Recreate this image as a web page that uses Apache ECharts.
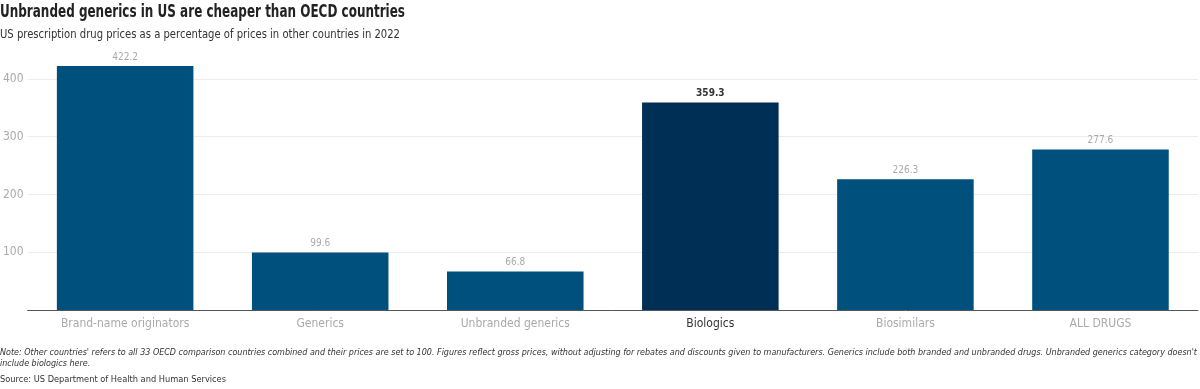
<!DOCTYPE html>
<html><head><meta charset="utf-8">
<script src="https://cdn.jsdelivr.net/npm/echarts@6/dist/echarts.min.js"></script>
<style>html,body{margin:0;padding:0;background:#fff}#c{width:1200px;height:389px}</style>
</head><body><div id="c"></div>
<script>
const categories = ["Brand-name originators", "Generics", "Unbranded generics", "Biologics", "Biosimilars", "ALL DRUGS"];
const values = [422.2, 99.6, 66.8, 359.3, 226.3, 277.6];
const highlight = "Biologics";
const titleText = "Unbranded generics in US are cheaper than OECD countries";
const subtitleText = "US prescription drug prices as a percentage of prices in other countries in 2022";
const noteLine1 = "Note: Other countries' refers to all 33 OECD comparison countries combined and their prices are set to 100. Figures reflect gross prices, without adjusting for rebates and discounts given to manufacturers. Generics include both branded and unbranded drugs. Unbranded generics category doesn't";
const noteLine2 = "include biologics here.";
const sourceText = "Source: US Department of Health and Human Services";

const FONT = "'Liberation Sans Narrow', 'DejaVu Sans Condensed', 'Noto Sans', sans-serif";
const mctx = document.createElement('canvas').getContext('2d');
function fit(text, font, target) {
  mctx.font = font;
  const w = mctx.measureText(text).width;
  return w > 0 ? target / w : 1;
}
function txt(text, font, x, y, fill, targetW) {
  const f = font + " " + FONT;
  return {
    type: 'text', x: x, y: y, scaleX: targetW ? fit(text, f, targetW) : 1,
    style: { text: text, font: f, fill: fill, verticalAlign: 'top' }
  };
}
const noteFont = "italic 9.5px";
const noteScale = fit(noteLine1, noteFont + " " + FONT, 1197);

const chart = echarts.init(document.getElementById('c'));
chart.setOption({
  animation: false,
  textStyle: { fontFamily: FONT },
  graphic: [
    txt(titleText, "bold 18px", 0, 3, '#222', 405),
    txt(subtitleText, "12px", 0, 29, '#333', 400),
    Object.assign(txt(noteLine1, noteFont, 0, 348, '#333'), { scaleX: noteScale }),
    Object.assign(txt(noteLine2, noteFont, 0, 359, '#333'), { scaleX: noteScale }),
    txt(sourceText, "9.5px", 0, 375, '#333', 226)
  ],
  grid: { left: 23, right: 2, top: 50, bottom: 79, containLabel: false },
  xAxis: {
    type: 'category', data: categories,
    axisLine: { lineStyle: { color: '#555', width: 1 } },
    axisTick: { show: false },
    axisLabel: {
      margin: 8, fontSize: 12, fontFamily: FONT,
      color: function (v) { return v === highlight ? '#333' : '#aaa'; }
    }
  },
  yAxis: {
    type: 'value', min: 0, max: 450, interval: 100,
    axisLine: { show: false }, axisTick: { show: false },
    axisLabel: { showMinLabel: false, showMaxLabel: false, margin: 4, fontSize: 12, color: '#aaa', fontFamily: FONT },
    splitLine: { showMinLine: false, showMaxLine: false, lineStyle: { color: '#ececec' } }
  },
  series: [{
    type: 'bar', barCategoryGap: '30%',
    data: values.map(function (v, i) {
      const hi = categories[i] === highlight;
      return {
        value: v,
        itemStyle: { color: hi ? '#002f56' : '#00507d' },
        label: { color: hi ? '#333' : '#aaa', fontWeight: hi ? 'bold' : 'normal' }
      };
    }),
    label: { show: true, position: 'top', distance: 4, fontSize: 10, fontFamily: FONT, formatter: function (p) { return p.value.toFixed(1); } }
  }]
});
</script></body></html>
